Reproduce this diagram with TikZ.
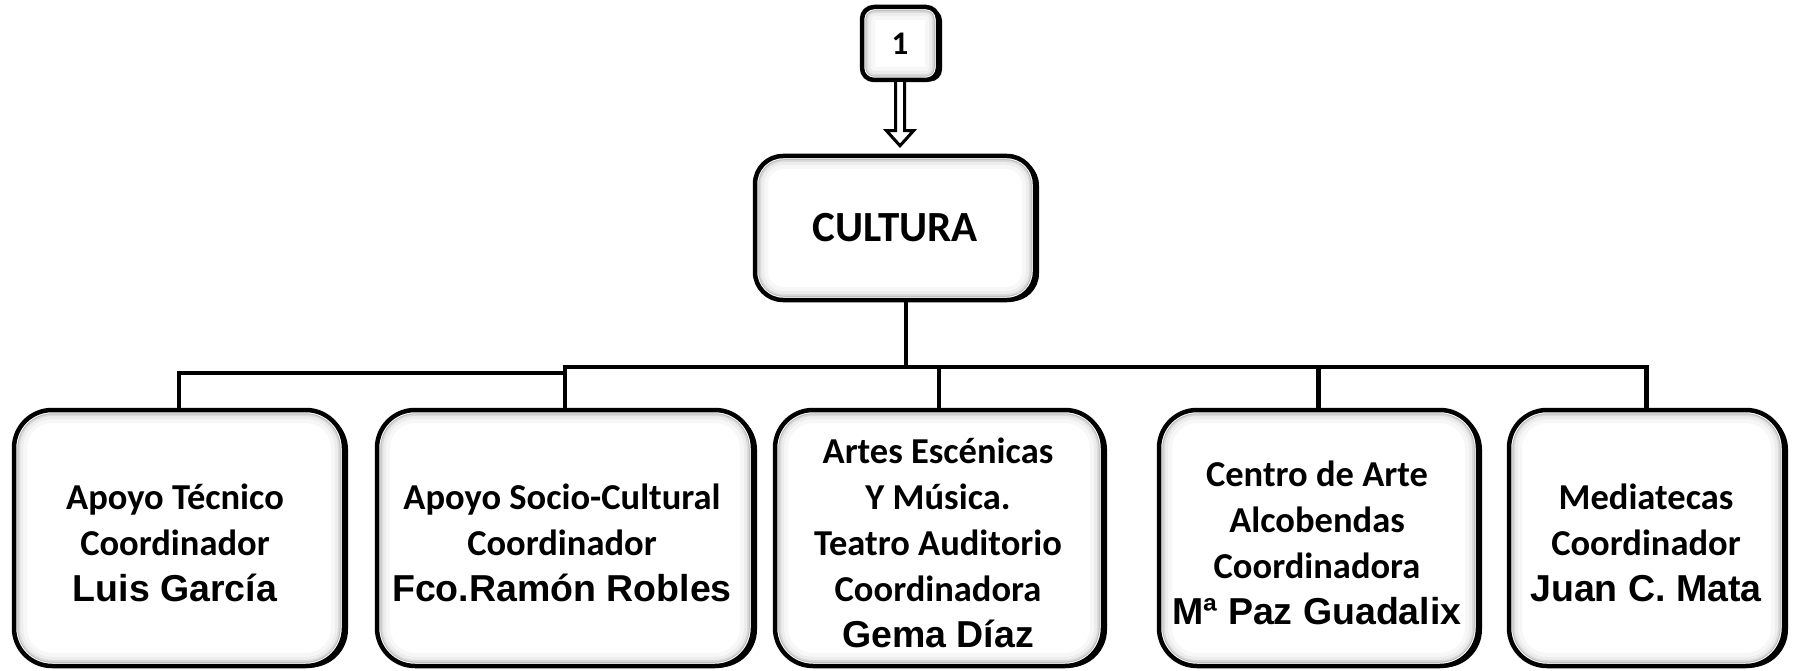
\documentclass[tikz,border=0pt]{standalone}
\usepackage{fontspec}
\setmainfont{Carlito}
\newfontfamily\namefont{Liberation Sans}
\usetikzlibrary{shadows,calc}

\begin{document}
\begin{tikzpicture}[x=1pt,y=-1pt,
  orgbox/.style={draw, line width=4.5pt, fill=white, rounded corners=#1, inner sep=0pt,
    drop shadow={shadow xshift=4pt, shadow yshift=-1.5pt, fill=black, opacity=1},
    path picture={
      \foreach \w/\clr in {26pt/gray!6, 18pt/gray!14, 12pt/gray!28, 8.5pt/gray!55, 6.5pt/white}
        \draw[line width=\w, draw=\clr, rounded corners=#1]
          (path picture bounding box.south west) rectangle (path picture bounding box.north east);
    }},
  boxtext/.style={align=center, inner sep=0pt, font=\fontsize{36.5}{46}\selectfont\bfseries},
  tie/.style={line width=4.5pt, line join=miter},
  arrowline/.style={line width=3pt, fill=white, line join=miter}
  ]
  \path[use as bounding box, fill=white] (0,0) rectangle (1794,671);

  \node[orgbox=12pt, minimum width=76pt, minimum height=73pt, font=\fontsize{33}{34}\selectfont\bfseries] (one) at (900,43.5) {1};
  \node[orgbox=28pt, minimum width=280pt, minimum height=144pt, font=\fontsize{43}{46}\selectfont\bfseries] (cultura) at (895,228) {CULTURA};

  % departments
  \node[orgbox=38pt, minimum width=330pt, minimum height=256pt] (tecnico) at (179,538) {};
  \node[orgbox=38pt, minimum width=376pt, minimum height=256pt] (sociocultural) at (565,538) {};
  \node[orgbox=38pt, minimum width=328pt, minimum height=256pt] (escenicas) at (939,538) {};
  \node[orgbox=38pt, minimum width=319pt, minimum height=256pt] (centroarte) at (1318.5,538) {};
  \node[orgbox=38pt, minimum width=275pt, minimum height=256pt] (mediatecas) at (1646.5,538) {};

  \node[boxtext] (tecnico-txt) at (175,543) {Apoyo Técnico\\Coordinador\\{\namefont\fontsize{37.5}{46}\selectfont Luis García}};
  \node[boxtext] (sociocultural-txt) at (562,543) {Apoyo Socio-Cultural\\Coordinador\\{\namefont\fontsize{37.5}{46}\selectfont Fco.Ramón Robles}};
  \node[boxtext] (escenicas-txt) at (938,543) {Artes Escénicas\\Y Música.\hspace*{40pt}\\Teatro Auditorio\\Coordinadora\\{\namefont\fontsize{37.5}{46}\selectfont Gema Díaz}};
  \node[boxtext] (centroarte-txt) at (1317,543) {Centro de Arte\\Alcobendas\\Coordinadora\\{\namefont\fontsize{37.5}{46}\selectfont Mª Paz Guadalix}};
  \node[boxtext] (mediatecas-txt) at (1646,543) {Mediatecas\\Coordinador\\{\namefont\fontsize{37.5}{46}\selectfont Juan C. Mata}};

  % block arrow 1 -> CULTURA
  \coordinate (tip) at ($(one.south |- cultura.north)+(0,-8)$);
  \draw[arrowline] ([xshift=-4.5pt]one.south) -- ([xshift=-4.5pt,yshift=15pt]tip)
    -- ([xshift=-13.5pt,yshift=15pt]tip) -- (tip) -- ([xshift=13.5pt,yshift=15pt]tip)
    -- ([xshift=4.5pt,yshift=15pt]tip) -- ([xshift=4.5pt]one.south);

  % connectors
  \coordinate (bus) at (906,367);
  \draw[tie] (cultura.south -| bus) -- (bus);
  \draw[tie] (sociocultural.north) -- (sociocultural.north |- bus) -- (bus -| mediatecas.north) -- (mediatecas.north);
  \draw[tie] (escenicas.north) -- (escenicas.north |- bus);
  \draw[tie] (centroarte.north) -- (centroarte.north |- bus);
  \draw[tie] (tecnico.north) |- ([yshift=-6pt]sociocultural.north |- bus);
\end{tikzpicture}
\end{document}
